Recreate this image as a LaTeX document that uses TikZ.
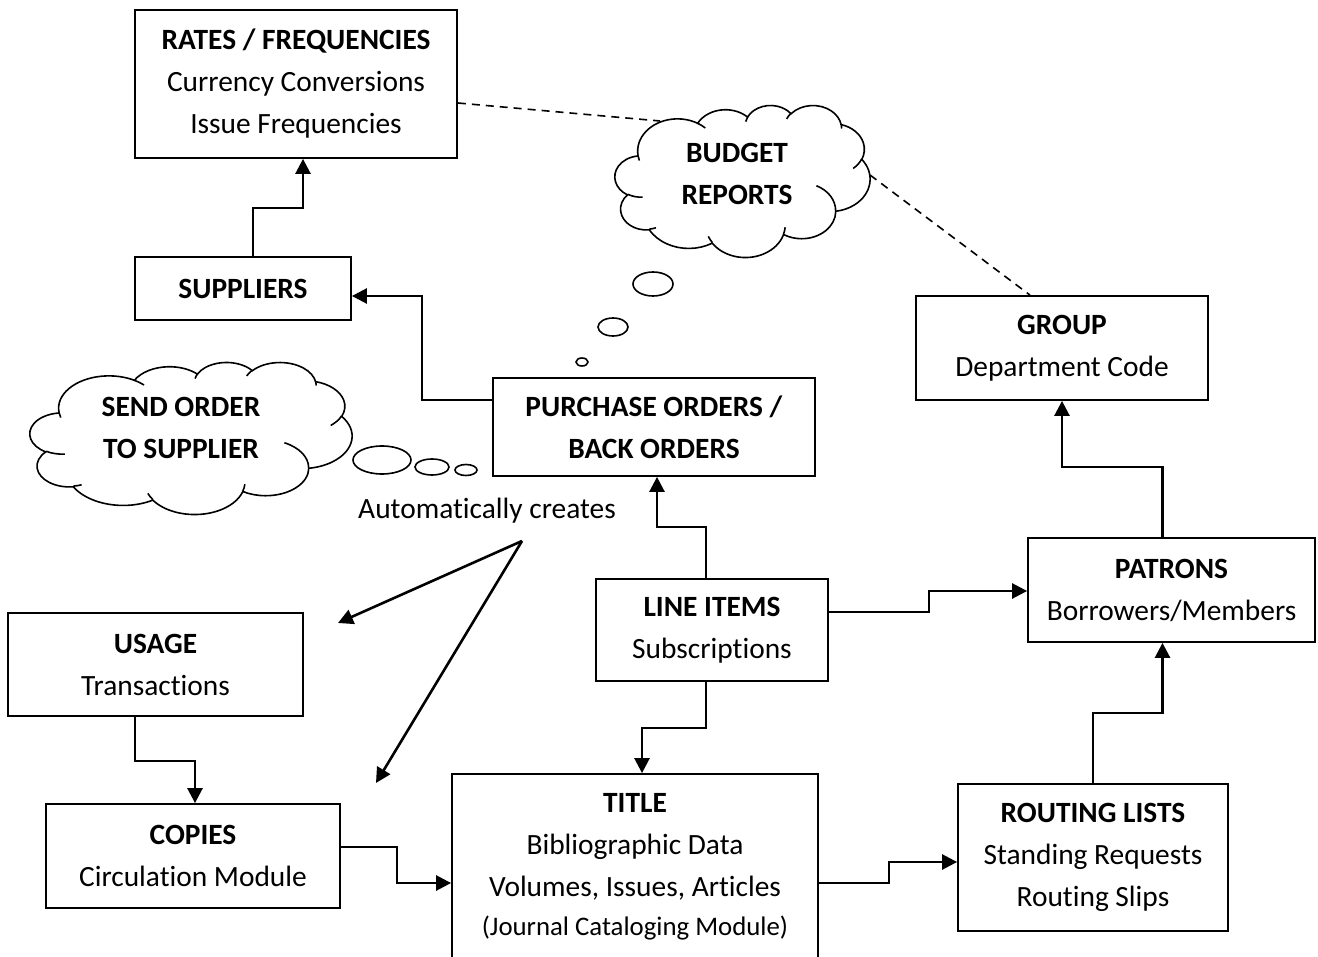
\documentclass[tikz,border=0pt]{standalone}
\usepackage{fontspec}
\setmainfont{Carlito}[Ligatures = NoCommon]
\usetikzlibrary{arrows.meta}

\newcommand{\boxfont}{\fontsize{14.7}{21}\selectfont}
\newcommand{\notefont}{\fontsize{13.4}{18}\selectfont}

\tikzset{
  box/.style = {draw, line width = 0.9pt, align = center, inner sep = 0pt, font = \boxfont},
  flow/.style = {line width = 1.3pt, -{Triangle[length = 7.5pt, width = 7.5pt]}},
  link/.style = {line width = 0.8pt, dash pattern = on 4pt off 3pt},
  bubble/.style = {draw, line width = 0.8pt},
  % one lobe of the cloud: radii, start angle and sweep, angles measured to the point
  puff/.style n args = {4}{insert path = {
    arc [x radius = #1, y radius = #2,
         start angle = {atan2(#1*sin(#3), #2*cos(#3))},
         delta angle = {mod(atan2(#1*sin(#3+#4), #2*cos(#3+#4)) - atan2(#1*sin(#3), #2*cos(#3)) + 720, 360)}]}},
  % cloud of width #1 and height #2, placed by its top left corner
  pics/thoughtcloud/.style 2 args = {code = {
    \begin{scope}[xscale = #1/432, yscale = #2/432, line width = 0.8pt]
      \draw [fill = white] (39.00, 143.70)
        [puff = {67.53}{91.90}{-190.48748}{123.78053}]
        [puff = {53.33}{72.67}{-144.10238}{89.94523}]
        [puff = {43.65}{59.45}{-145.80792}{99.72302}]
        [puff = {48.57}{65.95}{-130.98607}{117.24173}]
        [puff = {53.33}{72.73}{-78.70888}{109.02692}]
        [puff = {67.75}{92.20}{-46.26725}{130.269}]
        [puff = {57.85}{78.67}{0.62502}{114.03333}]
        [puff = {67.52}{92.15}{22.4516}{115.17255}]
        [puff = {77.20}{105.43}{66.24263}{75.71102}]
        [puff = {43.60}{59.18}{-274.94208}{146.73557}]
        [puff = {43.45}{59.45}{-246.8285}{152.51885}] -- cycle;
      \draw (46.93, 261.77) [puff = {43.45}{59.45}{86.742}{26.4295}]
            (69.28, 348.99) [puff = {43.60}{59.18}{73.61047}{11.44747}]
            (164.78, 390.90) [puff = {67.52}{92.15}{137.62415}{14.0811}]
            (288.27, 347.51) [puff = {67.52}{92.15}{6.45327}{15.99835}]
            (341.29, 229.54) [puff = {57.85}{78.67}{-70.29235}{70.91737}]
            (417.98, 153.54) [puff = {53.33}{72.73}{30.31803}{27.7515}]
            (383.24, 54.26) [puff = {48.57}{65.95}{-13.74433}{14.8589}]
            (290.78, 39.52) [puff = {48.57}{65.95}{-149.18145}{18.19537}]
            (221.41, 47.20) [puff = {43.65}{59.45}{-163.49427}{17.68635}]
            (140.00, 51.92) [puff = {67.53}{91.90}{-66.70695}{12.31935}]
            (41.27, 157.89) [puff = {67.53}{91.90}{157.65435}{11.85817}];
    \end{scope}}}
}

\begin{document}
\begin{tikzpicture}[x = 0.5pt, y = -0.5pt]
  \useasboundingbox (0, 0) rectangle (1318, 957);

  % tables
  \node [box, minimum width = 161pt, minimum height = 74pt] (rates) at (296, 84)
        {\textbf{RATES / FREQUENCIES}\\Currency Conversions\\Issue Frequencies};
  \node [box, minimum width = 108pt, minimum height = 31.5pt] (supp) at (243, 288.5)
        {\textbf{SUPPLIERS}};
  \node [box, minimum width = 161pt, minimum height = 49pt] (po) at (654, 427)
        {\textbf{PURCHASE ORDERS /}\\\textbf{BACK ORDERS}};
  \node [box, minimum width = 146pt, minimum height = 52pt] (group) at (1062, 348)
        {\textbf{GROUP}\\Department Code};
  \node [box, minimum width = 143.5pt, minimum height = 52pt] (patrons) at (1171.5, 590)
        {\textbf{PATRONS}\\Borrowers/Members};
  \node [box, minimum width = 116pt, minimum height = 51pt] (items) at (712, 630)
        {\textbf{LINE ITEMS}\\Subscriptions};
  \node [box, minimum width = 147.5pt, minimum height = 51.5pt] (usage) at (155.5, 664.5)
        {\textbf{USAGE}\\Transactions};
  \node [box, minimum width = 147pt, minimum height = 52pt] (copies) at (193, 856)
        {\textbf{COPIES}\\Circulation Module};
  \node [box, minimum width = 183pt, minimum height = 93pt] (title) at (635, 867)
        {\textbf{TITLE}\\Bibliographic Data\\Volumes, Issues, Articles\\[-1.5pt]{\notefont(Journal Cataloging Module)}};
  \node [box, minimum width = 135pt, minimum height = 73.5pt] (routing) at (1093, 857.5)
        {\textbf{ROUTING LISTS}\\Standing Requests\\Routing Slips};

  % budget links
  \coordinate (budgetin) at (660, 121);
  \coordinate (budgetout) at (870, 175);
  \draw [link] ([yshift = -9.5pt]rates.east) -- (budgetin);
  \draw [link] (budgetout) -- ([xshift = -16pt]group.north);

  % clouds
  \pic at (615, 105) {thoughtcloud = {255}{152}};
  \node [font = \boxfont\bfseries, align = center] (budget) at (737, 174) {BUDGET\\REPORTS};
  \draw [bubble] (653, 284) ellipse [x radius = 10pt, y radius = 6pt];
  \draw [bubble] (613, 327) ellipse [x radius = 7.5pt, y radius = 4.5pt];
  \draw [bubble] (582, 362) ellipse [x radius = 3pt, y radius = 2pt];

  \pic at (30, 362) {thoughtcloud = {322}{152}};
  \node [font = \boxfont\bfseries, align = center] (send) at (181, 428) {SEND ORDER\\TO SUPPLIER};
  \draw [bubble] (382, 460) ellipse [x radius = 14.5pt, y radius = 7pt];
  \draw [bubble] (432, 467) ellipse [x radius = 8.5pt, y radius = 4pt];
  \draw [bubble] (466, 470) ellipse [x radius = 5.5pt, y radius = 2.75pt];

  % automatic records
  \node [font = \boxfont] (auto) at (487, 511) {Automatically creates};
  \coordinate (apex) at (522, 541);
  \coordinate (usagetip) at (338, 623);
  \coordinate (copiestip) at (376, 783);
  \draw [flow] (apex) -- (usagetip);
  \draw [flow] (apex) -- (copiestip);

  % data flow
  \draw [flow] ([xshift = 5pt]supp.north) -- ++(0, -48) -| ([xshift = 3.5pt]rates.south);
  \draw [flow] ([yshift = 13.5pt]po.west) -- ++(-70, 0) |- ([yshift = -3.75pt]supp.east);
  \draw [flow] ([xshift = -3pt]items.north) -- ++(0, -51) -| ([xshift = 1.5pt]po.south);
  \draw [flow] ([xshift = -3pt]items.south) -- ++(0, 46) -| ([xshift = 3.5pt]title.north);
  \draw [flow] ([yshift = 9pt]items.east) -- ++(100, 0) |- ([yshift = -0.5pt]patrons.west);
  \draw [flow] (routing.north) -- ++(0, -70) -| ([xshift = -4.5pt]patrons.south);
  \draw [flow] ([xshift = -4.5pt]patrons.north) -- ++(0, -70) -| (group.south);
  \draw [flow] ([xshift = -10.25pt]usage.south) -- ++(0, 44) -| ([xshift = 1pt]copies.north);
  \draw [flow] ([yshift = 4.5pt]copies.east) -- ++(56, 0) |- ([yshift = -8pt]title.west);
  \draw [flow] ([yshift = -8pt]title.east) -- ++(70, 0) |- ([yshift = -2.25pt]routing.west);
\end{tikzpicture}
\end{document}
